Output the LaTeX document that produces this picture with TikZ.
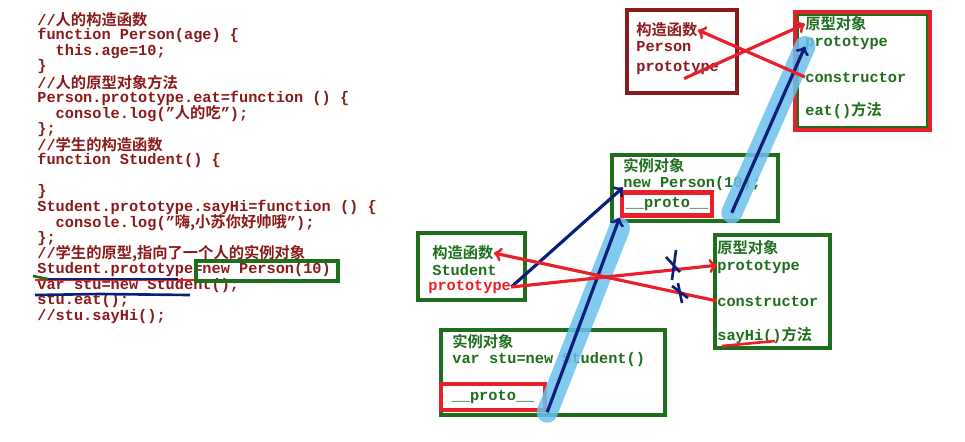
\documentclass[tikz,border=0pt]{standalone}
\usepackage{fontspec}
\setmainfont{Liberation Mono}
\newfontfamily\cjk{Noto Sans CJK SC}[BoldFont={Noto Sans CJK SC Bold}]
\usetikzlibrary{positioning}
\definecolor{codered}{HTML}{8B1A1A}
\definecolor{boxgreen}{HTML}{1E6E1E}
\definecolor{boxred}{HTML}{E8202A}
\definecolor{navy}{HTML}{0A1E7A}
\definecolor{sky}{HTML}{6CC0EC}
\tikzset{
  code/.style={anchor=west,inner sep=0pt,text=codered,font=\bfseries\fontsize{8.7}{10}\selectfont},
  lbl/.style={anchor=west,inner sep=0pt,text=boxgreen,font=\bfseries\fontsize{8.7}{10}\selectfont},
  gbox/.style={draw=boxgreen,line width=2.5pt},
  rbox/.style={draw=boxred,line width=2.5pt},
  redarrow/.style={draw=boxred,line width=1.8pt,->},
  bluearrow/.style={draw=navy,line width=1.8pt,->},
  glow/.style={draw=sky,line width=12pt,line cap=round,opacity=.85}
}
\newcommand{\zh}[1]{{\cjk #1}}
\begin{document}
\begin{tikzpicture}[x=0.02cm,y=-0.02cm]
\useasboundingbox (0,0) rectangle (965,441);
% code on the left
\foreach \txt [count=\i from 0] in {
  {//\zh{人的构造函数}},
  {function Person(age) \{},
  {\ \ this.age=10;},
  {\}},
  {//\zh{人的原型对象方法}},
  {Person.prototype.eat=function () \{},
  {\ \ console.log("\zh{人的吃}");},
  {\};},
  {//\zh{学生的构造函数}},
  {function Student() \{},
  {},
  {\}},
  {Student.prototype.sayHi=function () \{},
  {\ \ console.log("\zh{嗨,小苏你好帅哦}");},
  {\};},
  {//\zh{学生的原型,指向了一个人的实例对象}},
  {Student.prototype=new Person(10)},
  {var stu=new Student();},
  {stu.eat();},
  {//stu.sayHi();}}
  \node[code] (line\i) at (37,{20+15.6*\i}) {\txt};
% marks on the code
\draw[boxred,line width=1.5pt] (35,280) -- (336,280);
\draw[navy,line width=1.5pt] (48,279) -- (178,279);
\draw[boxgreen,line width=1.5pt] (33,276) -- (48,279);
\draw[navy,line width=1.5pt] (35,295) -- (100,294) -- (190,295);
\node[gbox,minimum width=142*0.02cm,minimum height=20*0.02cm,inner sep=0pt] (newbox) at (267,271) {};

% Person constructor and prototype
\draw[codered,line width=2.5pt] (627,10) rectangle (737,93);
\node[lbl,text=codered] (pctitle) at (636,30) {\zh{构造函数}};
\node[lbl,text=codered] (pcname) at (636,47) {Person};
\node[lbl,text=codered] (pcproto) at (636,68) {prototype};
\draw[boxred,line width=2.5pt] (795,12) rectangle (930,130);
\draw[boxgreen,line width=.6pt] (798,15) rectangle (927,127);
\node[lbl] (pptitle) at (805,24) {\zh{原型对象}};
\node[lbl] (ppproto) at (805,43) {prototype};
\node[lbl] (ppctor) at (805,77) {constructor};
\node[lbl] (ppeat) at (805,110) {eat()\zh{方法}};

% instance new Person(10)
\draw[gbox] (612,155) rectangle (778,221);
\node[lbl] (pititle) at (623,166) {\zh{实例对象}};
\node[lbl] (piname) at (623,184) {new Person(10);};
\node[rbox,minimum width=90*0.02cm,minimum height=23*0.02cm,inner sep=0pt] (piproto) at (667,204) {};
\node[lbl] at (piproto.center) [anchor=center] {\_\_proto\_\_};

% Student constructor and prototype
\draw[gbox] (418,233) rectangle (525,300);
\node[lbl] (sctitle) at (432,253) {\zh{构造函数}};
\node[lbl] (scname) at (432,270) {Student};
\node[lbl,text=boxred] (scproto) at (428,287) {prototype};
\draw[gbox] (715,235) rectangle (830,348);
\node[lbl] (sptitle) at (717,248) {\zh{原型对象}};
\node[lbl] (spproto) at (717,267) {prototype};
\node[lbl] (spctor) at (717,301) {constructor};
\node[lbl] (spsay) at (717,335) {sayHi()\zh{方法}};
\draw[boxred,line width=1.5pt] (722,346) -- (775,341);

% instance stu
\draw[gbox] (441,330) rectangle (665,415);
\node[lbl] (sititle) at (452,342) {\zh{实例对象}};
\node[lbl] (siname) at (452,360) {var stu=new Student()};
\node[rbox,minimum width=104*0.02cm,minimum height=26*0.02cm,inner sep=0pt] (siproto) at (493,397) {};
\node[lbl] at (siproto.center) [anchor=center] {\_\_proto\_\_};

% prototype chain
\draw[glow] (siproto.south east) -- ([xshift=-27pt,yshift=-6pt]piproto.south);
\draw[glow] ([xshift=10pt,yshift=-5pt]piproto.east) -- ([yshift=-2pt]ppproto.west);
\draw[bluearrow] (siproto.south east) -- ([xshift=-27pt]piproto.south);
\draw[bluearrow] ([xshift=10pt,yshift=-5pt]piproto.east) -- ([yshift=-2pt]ppproto.west);
\draw[bluearrow] (scproto.east) -- ([yshift=-2pt]piname.west);

% prototype / constructor links
\draw[redarrow] (scproto.east) -- ([yshift=-3pt]spproto.north west);
\draw[redarrow] (spctor.west) -- (sctitle.east);
\draw[redarrow] ([xshift=-20pt,yshift=-6pt]pcproto.east) -- (pptitle.west);
\draw[redarrow] (ppctor.west) -- (pctitle.east);
\draw[navy,line width=1.5pt] (666,257) -- (680,272) (676,250) -- (672,280);
\draw[navy,line width=1.5pt] (672,286) -- (688,298) (678,283) -- (682,303);
\end{tikzpicture}
\end{document}
